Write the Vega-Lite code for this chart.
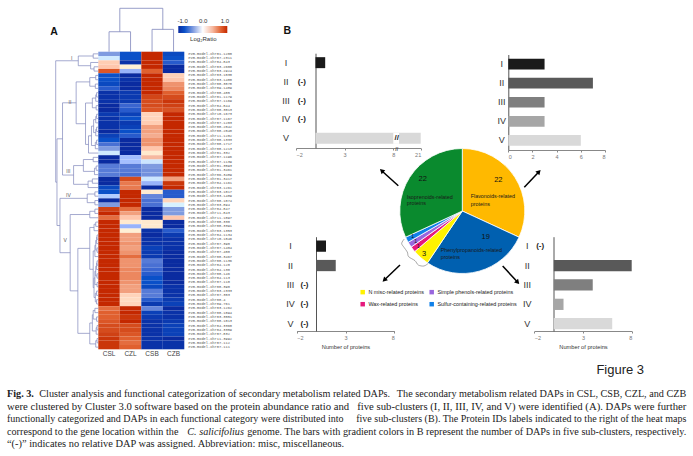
{"$schema":"https://vega.github.io/schema/vega-lite/v6.json","width":693,"height":456,"padding":0,"autosize":{"type":"none"},"background":"white",
"config":{"view":{"stroke":null},"axis":{"grid":false},"font":"Liberation Sans"},
"resolve":{"scale":{"x":"independent","y":"independent","color":"independent"},"axis":{"x":"independent","y":"independent"}},
"layer":[
{"data":{"values":[
{"r":0,"s":"CSL","v":-0.4},{"r":0,"s":"CZL","v":-0.75},{"r":0,"s":"CSB","v":1},{"r":0,"s":"CZB","v":-0.8},
{"r":1,"s":"CSL","v":-0.08},{"r":1,"s":"CZL","v":-0.75},{"r":1,"s":"CSB","v":1},{"r":1,"s":"CZB","v":-0.75},
{"r":2,"s":"CSL","v":0.25},{"r":2,"s":"CZL","v":-0.95},{"r":2,"s":"CSB","v":1},{"r":2,"s":"CZB","v":-0.7},
{"r":3,"s":"CSL","v":0.3},{"r":3,"s":"CZL","v":0},{"r":3,"s":"CSB","v":1},{"r":3,"s":"CZB","v":-1},
{"r":4,"s":"CSL","v":0.8},{"r":4,"s":"CZL","v":-0.3},{"r":4,"s":"CSB","v":0.75},{"r":4,"s":"CZB","v":-1},
{"r":5,"s":"CSL","v":-0.75},{"r":5,"s":"CZL","v":-1},{"r":5,"s":"CSB","v":1},{"r":5,"s":"CZB","v":0.22},
{"r":6,"s":"CSL","v":-0.75},{"r":6,"s":"CZL","v":-0.95},{"r":6,"s":"CSB","v":1},{"r":6,"s":"CZB","v":0.3},
{"r":7,"s":"CSL","v":-0.8},{"r":7,"s":"CZL","v":-1},{"r":7,"s":"CSB","v":1},{"r":7,"s":"CZB","v":0.55},
{"r":8,"s":"CSL","v":-0.7},{"r":8,"s":"CZL","v":-1},{"r":8,"s":"CSB","v":1},{"r":8,"s":"CZB","v":0.6},
{"r":9,"s":"CSL","v":-0.95},{"r":9,"s":"CZL","v":-0.9},{"r":9,"s":"CSB","v":1},{"r":9,"s":"CZB","v":0.75},
{"r":10,"s":"CSL","v":-0.95},{"r":10,"s":"CZL","v":-0.9},{"r":10,"s":"CSB","v":0.88},{"r":10,"s":"CZB","v":0.85},
{"r":11,"s":"CSL","v":-0.95},{"r":11,"s":"CZL","v":-0.9},{"r":11,"s":"CSB","v":0.85},{"r":11,"s":"CZB","v":0.95},
{"r":12,"s":"CSL","v":-1},{"r":12,"s":"CZL","v":-0.65},{"r":12,"s":"CSB","v":0.85},{"r":12,"s":"CZB","v":0.9},
{"r":13,"s":"CSL","v":-1},{"r":13,"s":"CZL","v":-0.7},{"r":13,"s":"CSB","v":0.8},{"r":13,"s":"CZB","v":0.82},
{"r":14,"s":"CSL","v":-0.9},{"r":14,"s":"CZL","v":-0.85},{"r":14,"s":"CSB","v":0.2},{"r":14,"s":"CZB","v":1},
{"r":15,"s":"CSL","v":-0.95},{"r":15,"s":"CZL","v":-0.75},{"r":15,"s":"CSB","v":0.2},{"r":15,"s":"CZB","v":1},
{"r":16,"s":"CSL","v":-0.95},{"r":16,"s":"CZL","v":-0.9},{"r":16,"s":"CSB","v":0.25},{"r":16,"s":"CZB","v":1},
{"r":17,"s":"CSL","v":-0.95},{"r":17,"s":"CZL","v":-0.85},{"r":17,"s":"CSB","v":0.5},{"r":17,"s":"CZB","v":1},
{"r":18,"s":"CSL","v":-1},{"r":18,"s":"CZL","v":-0.75},{"r":18,"s":"CSB","v":0.5},{"r":18,"s":"CZB","v":1},
{"r":19,"s":"CSL","v":-0.85},{"r":19,"s":"CZL","v":-0.7},{"r":19,"s":"CSB","v":0.45},{"r":19,"s":"CZB","v":1},
{"r":20,"s":"CSL","v":-0.75},{"r":20,"s":"CZL","v":-1},{"r":20,"s":"CSB","v":0.55},{"r":20,"s":"CZB","v":1},
{"r":21,"s":"CSL","v":-0.6},{"r":21,"s":"CZL","v":-1},{"r":21,"s":"CSB","v":0.55},{"r":21,"s":"CZB","v":1},
{"r":22,"s":"CSL","v":-0.4},{"r":22,"s":"CZL","v":-1},{"r":22,"s":"CSB","v":0.3},{"r":22,"s":"CZB","v":1},
{"r":23,"s":"CSL","v":-0.08},{"r":23,"s":"CZL","v":-1},{"r":23,"s":"CSB","v":0.05},{"r":23,"s":"CZB","v":1},
{"r":24,"s":"CSL","v":-1},{"r":24,"s":"CZL","v":-0.25},{"r":24,"s":"CSB","v":0.4},{"r":24,"s":"CZB","v":1},
{"r":25,"s":"CSL","v":-1},{"r":25,"s":"CZL","v":-0.25},{"r":25,"s":"CSB","v":-0.1},{"r":25,"s":"CZB","v":1},
{"r":26,"s":"CSL","v":-0.55},{"r":26,"s":"CZL","v":-0.55},{"r":26,"s":"CSB","v":-0.4},{"r":26,"s":"CZB","v":1},
{"r":27,"s":"CSL","v":-0.55},{"r":27,"s":"CZL","v":-0.55},{"r":27,"s":"CSB","v":-0.45},{"r":27,"s":"CZB","v":1},
{"r":28,"s":"CSL","v":-0.55},{"r":28,"s":"CZL","v":-0.6},{"r":28,"s":"CSB","v":-0.45},{"r":28,"s":"CZB","v":1},
{"r":29,"s":"CSL","v":-1},{"r":29,"s":"CZL","v":0.85},{"r":29,"s":"CSB","v":-0.1},{"r":29,"s":"CZB","v":0.5},
{"r":30,"s":"CSL","v":-1},{"r":30,"s":"CZL","v":0.65},{"r":30,"s":"CSB","v":-0.3},{"r":30,"s":"CZB","v":0.95},
{"r":31,"s":"CSL","v":-0.8},{"r":31,"s":"CZL","v":0.65},{"r":31,"s":"CSB","v":-1},{"r":31,"s":"CZB","v":1},
{"r":32,"s":"CSL","v":-0.75},{"r":32,"s":"CZL","v":1},{"r":32,"s":"CSB","v":0.03},{"r":32,"s":"CZB","v":-0.7},
{"r":33,"s":"CSL","v":-0.2},{"r":33,"s":"CZL","v":1},{"r":33,"s":"CSB","v":-0.5},{"r":33,"s":"CZB","v":-0.7},
{"r":34,"s":"CSL","v":-1},{"r":34,"s":"CZL","v":1},{"r":34,"s":"CSB","v":-0.6},{"r":34,"s":"CZB","v":0.2},
{"r":35,"s":"CSL","v":-0.4},{"r":35,"s":"CZL","v":1},{"r":35,"s":"CSB","v":-0.6},{"r":35,"s":"CZB","v":-0.05},
{"r":36,"s":"CSL","v":0.9},{"r":36,"s":"CZL","v":0.7},{"r":36,"s":"CSB","v":-1},{"r":36,"s":"CZB","v":-0.4},
{"r":37,"s":"CSL","v":1},{"r":37,"s":"CZL","v":0.5},{"r":37,"s":"CSB","v":-1},{"r":37,"s":"CZB","v":-0.4},
{"r":38,"s":"CSL","v":0.7},{"r":38,"s":"CZL","v":0.3},{"r":38,"s":"CSB","v":-1},{"r":38,"s":"CZB","v":0.3},
{"r":39,"s":"CSL","v":1},{"r":39,"s":"CZL","v":0.05},{"r":39,"s":"CSB","v":0.05},{"r":39,"s":"CZB","v":-1},
{"r":40,"s":"CSL","v":1},{"r":40,"s":"CZL","v":-0.3},{"r":40,"s":"CSB","v":0.05},{"r":40,"s":"CZB","v":-1},
{"r":41,"s":"CSL","v":1},{"r":41,"s":"CZL","v":0},{"r":41,"s":"CSB","v":-0.95},{"r":41,"s":"CZB","v":-0.7},
{"r":42,"s":"CSL","v":1},{"r":42,"s":"CZL","v":0.5},{"r":42,"s":"CSB","v":-1},{"r":42,"s":"CZB","v":-0.9},
{"r":43,"s":"CSL","v":1},{"r":43,"s":"CZL","v":0.5},{"r":43,"s":"CSB","v":-0.95},{"r":43,"s":"CZB","v":-0.95},
{"r":44,"s":"CSL","v":1},{"r":44,"s":"CZL","v":0.55},{"r":44,"s":"CSB","v":-0.95},{"r":44,"s":"CZB","v":-0.95},
{"r":45,"s":"CSL","v":1},{"r":45,"s":"CZL","v":0.5},{"r":45,"s":"CSB","v":-0.85},{"r":45,"s":"CZB","v":-0.95},
{"r":46,"s":"CSL","v":1},{"r":46,"s":"CZL","v":0.55},{"r":46,"s":"CSB","v":-0.9},{"r":46,"s":"CZB","v":-1},
{"r":47,"s":"CSL","v":1},{"r":47,"s":"CZL","v":0.7},{"r":47,"s":"CSB","v":-0.9},{"r":47,"s":"CZB","v":-1},
{"r":48,"s":"CSL","v":1},{"r":48,"s":"CZL","v":0.55},{"r":48,"s":"CSB","v":-0.55},{"r":48,"s":"CZB","v":-1},
{"r":49,"s":"CSL","v":1},{"r":49,"s":"CZL","v":0.55},{"r":49,"s":"CSB","v":-0.6},{"r":49,"s":"CZB","v":-1},
{"r":50,"s":"CSL","v":1},{"r":50,"s":"CZL","v":0.6},{"r":50,"s":"CSB","v":-0.65},{"r":50,"s":"CZB","v":-1},
{"r":51,"s":"CSL","v":1},{"r":51,"s":"CZL","v":0.6},{"r":51,"s":"CSB","v":-0.7},{"r":51,"s":"CZB","v":-1},
{"r":52,"s":"CSL","v":1},{"r":52,"s":"CZL","v":0.6},{"r":52,"s":"CSB","v":-0.75},{"r":52,"s":"CZB","v":-1},
{"r":53,"s":"CSL","v":1},{"r":53,"s":"CZL","v":0.55},{"r":53,"s":"CSB","v":-0.75},{"r":53,"s":"CZB","v":-1},
{"r":54,"s":"CSL","v":1},{"r":54,"s":"CZL","v":0.5},{"r":54,"s":"CSB","v":-0.8},{"r":54,"s":"CZB","v":-0.95},
{"r":55,"s":"CSL","v":1},{"r":55,"s":"CZL","v":0.5},{"r":55,"s":"CSB","v":-0.55},{"r":55,"s":"CZB","v":-0.95},
{"r":56,"s":"CSL","v":1},{"r":56,"s":"CZL","v":0.2},{"r":56,"s":"CSB","v":-0.55},{"r":56,"s":"CZB","v":-0.95},
{"r":57,"s":"CSL","v":1},{"r":57,"s":"CZL","v":0.15},{"r":57,"s":"CSB","v":-0.7},{"r":57,"s":"CZB","v":-0.9},
{"r":58,"s":"CSL","v":1},{"r":58,"s":"CZL","v":0.2},{"r":58,"s":"CSB","v":-0.9},{"r":58,"s":"CZB","v":-0.85},
{"r":59,"s":"CSL","v":0.7},{"r":59,"s":"CZL","v":1},{"r":59,"s":"CSB","v":-0.5},{"r":59,"s":"CZB","v":-1},
{"r":60,"s":"CSL","v":0.75},{"r":60,"s":"CZL","v":1},{"r":60,"s":"CSB","v":-0.85},{"r":60,"s":"CZB","v":-0.95},
{"r":61,"s":"CSL","v":0.75},{"r":61,"s":"CZL","v":0.95},{"r":61,"s":"CSB","v":-0.9},{"r":61,"s":"CZB","v":-0.95},
{"r":62,"s":"CSL","v":0.8},{"r":62,"s":"CZL","v":1},{"r":62,"s":"CSB","v":-0.95},{"r":62,"s":"CZB","v":-0.9},
{"r":63,"s":"CSL","v":0.85},{"r":63,"s":"CZL","v":0.85},{"r":63,"s":"CSB","v":-0.95},{"r":63,"s":"CZB","v":-0.85},
{"r":64,"s":"CSL","v":0.85},{"r":64,"s":"CZL","v":0.85},{"r":64,"s":"CSB","v":-0.95},{"r":64,"s":"CZB","v":-0.85},
{"r":65,"s":"CSL","v":0.9},{"r":65,"s":"CZL","v":0.8},{"r":65,"s":"CSB","v":-0.95},{"r":65,"s":"CZB","v":-0.85},
{"r":66,"s":"CSL","v":0.95},{"r":66,"s":"CZL","v":0.75},{"r":66,"s":"CSB","v":-0.95},{"r":66,"s":"CZB","v":-1},
{"r":67,"s":"CSL","v":0.95},{"r":67,"s":"CZL","v":0.7},{"r":67,"s":"CSB","v":-0.95},{"r":67,"s":"CZB","v":-0.95},
{"r":68,"s":"CSL","v":0.95},{"r":68,"s":"CZL","v":0.75},{"r":68,"s":"CSB","v":-0.95},{"r":68,"s":"CZB","v":-0.95}
]},"mark":{"type":"rect"},"encoding":{
"x":{"field":"s","type":"nominal","scale":{"type":"band","domain":["CSL","CZL","CSB","CZB"],"range":[98.3,184.3]},"axis":{"orient":"bottom","offset":-106.7,"title":null,"domain":false,"ticks":false,"labelAngle":0,"labelFontSize":6.5,"labelColor":"#444","labelPadding":1}},
"y":{"field":"r","type":"ordinal","scale":{"type":"band","range":[51.7,349.3],"paddingInner":0,"paddingOuter":0},"axis":null},
"color":{"field":"v","type":"quantitative","legend":null,"scale":{"domain":[-1,-0.75,-0.4,0,0.4,0.75,1],"range":["#0a2ba0","#0a50c8","#7f9be0","#ffffff","#f6b89f","#e0602f","#c42800"]}}}},

{"data":{"values":[
{"r":0,"id":"evm.model.Chr01.1200"},{"r":1,"id":"evm.model.Chr07.2311"},{"r":2,"id":"evm.model.Chr04.843"},{"r":3,"id":"evm.model.Chr03.2600"},{"r":4,"id":"evm.model.Chr03.2924"},{"r":5,"id":"evm.model.Chr03.1030"},{"r":6,"id":"evm.model.Chr03.1480"},{"r":7,"id":"evm.model.Chr08.3878"},{"r":8,"id":"evm.model.Chr09.1489"},{"r":9,"id":"evm.model.Chr08.485"},{"r":10,"id":"evm.model.Chr01.1179"},{"r":11,"id":"evm.model.Chr07.1169"},{"r":12,"id":"evm.model.Chr04.844"},{"r":13,"id":"evm.model.Chr08.3013"},{"r":14,"id":"evm.model.Chr10.1673"},{"r":15,"id":"evm.model.Chr07.1167"},{"r":16,"id":"evm.model.Chr07.1203"},{"r":17,"id":"evm.model.Chr08.2042"},{"r":18,"id":"evm.model.Chr08.2040"},{"r":19,"id":"evm.model.Chr11.1202"},{"r":20,"id":"evm.model.Chr08.1333"},{"r":21,"id":"evm.model.Chr08.1717"},{"r":22,"id":"evm.model.Chr08.1213"},{"r":23,"id":"evm.model.Chr01.332"},{"r":24,"id":"evm.model.Chr07.1196"},{"r":25,"id":"evm.model.Chr07.1139"},{"r":26,"id":"evm.model.Chr01.3593"},{"r":27,"id":"evm.model.Chr01.3461"},{"r":28,"id":"evm.model.Chr06.3489"},{"r":29,"id":"evm.model.Chr01.3417"},{"r":30,"id":"evm.model.Chr04.1161"},{"r":31,"id":"evm.model.Chr03.1261"},{"r":32,"id":"evm.model.Chr03.1017"},{"r":33,"id":"evm.model.Chr03.1489"},{"r":34,"id":"evm.model.Chr08.1074"},{"r":35,"id":"evm.model.Chr03.894"},{"r":36,"id":"evm.model.Chr04.847"},{"r":37,"id":"evm.model.Chr11.843"},{"r":38,"id":"evm.model.Chr11.1097"},{"r":39,"id":"evm.model.Chr08.330"},{"r":40,"id":"evm.model.Chr08.3391"},{"r":41,"id":"evm.model.Chr03.1353"},{"r":42,"id":"evm.model.Chr04.1134"},{"r":43,"id":"evm.model.Chr10.1046"},{"r":44,"id":"evm.model.Chr07.390"},{"r":45,"id":"evm.model.Chr07.1404"},{"r":46,"id":"evm.model.Chr07.400"},{"r":47,"id":"evm.model.Chr08.3467"},{"r":48,"id":"evm.model.Chr08.1136"},{"r":49,"id":"evm.model.Chr04.120"},{"r":50,"id":"evm.model.Chr04.130"},{"r":51,"id":"evm.model.Chr08.146"},{"r":52,"id":"evm.model.Chr04.113"},{"r":53,"id":"evm.model.Chr07.110"},{"r":54,"id":"evm.model.Chr08.390"},{"r":55,"id":"evm.model.Chr03.2333"},{"r":56,"id":"evm.model.Chr07.303"},{"r":57,"id":"evm.model.Chr08.4"},{"r":58,"id":"evm.model.Chr09.761"},{"r":59,"id":"evm.model.Chr03.1262"},{"r":60,"id":"evm.model.Chr08.1094"},{"r":61,"id":"evm.model.Chr03.3551"},{"r":62,"id":"evm.model.Chr08.1013"},{"r":63,"id":"evm.model.Chr04.3360"},{"r":64,"id":"evm.model.Chr04.3359"},{"r":65,"id":"evm.model.Chr07.832"},{"r":66,"id":"evm.model.Chr11.3992"},{"r":67,"id":"evm.model.Chr07.112"},{"r":68,"id":"evm.model.Chr07.111"}
]},"mark":{"type":"text","align":"left","baseline":"middle","font":"Liberation Mono","fontSize":3.65,"color":"#555"},"encoding":{
"x":{"datum":0,"scale":{"domain":[0,1],"range":[188.3,232]},"axis":null},
"y":{"field":"r","type":"ordinal","scale":{"type":"band","range":[51.7,349.3],"paddingInner":0,"paddingOuter":0},"axis":null},
"text":{"field":"id"}}},

{"encoding":{
"x":{"field":"d","type":"quantitative","scale":{"domain":[0,100],"range":[98.3,55.7]},"axis":null},
"y":{"field":"r1","type":"quantitative","scale":{"domain":[0,69],"range":[51.7,349.3]},"axis":null}},
"data":{"values":[
{"d":12,"r1":0.5,"d1":0,"r2":1.5,"d2":0},{"d":10,"r1":3.5,"d1":0,"r2":4.5,"d2":0},{"d":18,"r1":2.5,"d1":0,"r2":4,"d2":10},{"d":47,"r1":1,"d1":12,"r2":3.25,"d2":18},
{"d":6,"r1":5.5,"d1":0,"r2":6.5,"d2":0},{"d":7,"r1":7.5,"d1":0,"r2":8.5,"d2":0},{"d":20,"r1":6,"d1":6,"r2":8,"d2":7},{"d":4,"r1":9.5,"d1":0,"r2":10.5,"d2":0},{"d":6,"r1":10,"d1":4,"r2":11.5,"d2":0},{"d":5,"r1":12.5,"d1":0,"r2":13.5,"d2":0},{"d":14,"r1":10.75,"d1":6,"r2":13,"d2":5},{"d":4,"r1":14.5,"d1":0,"r2":15.5,"d2":0},{"d":6,"r1":15,"d1":4,"r2":16.5,"d2":0},{"d":4,"r1":17.5,"d1":0,"r2":18.5,"d2":0},{"d":6,"r1":18,"d1":4,"r2":19.5,"d2":0},{"d":11,"r1":15.75,"d1":6,"r2":18.75,"d2":6},{"d":4,"r1":20.5,"d1":0,"r2":21.5,"d2":0},{"d":7,"r1":21,"d1":4,"r2":22.5,"d2":0},{"d":16,"r1":17.25,"d1":11,"r2":21.75,"d2":7},{"d":23,"r1":19.5,"d1":16,"r2":23.5,"d2":0},{"d":30,"r1":11.9,"d1":14,"r2":21.5,"d2":23},{"d":52,"r1":7,"d1":20,"r2":16.7,"d2":30},
{"d":12,"r1":24.5,"d1":0,"r2":25.5,"d2":0},{"d":5,"r1":26.5,"d1":0,"r2":27.5,"d2":0},{"d":9,"r1":27,"d1":5,"r2":28.5,"d2":0},{"d":35,"r1":25,"d1":12,"r2":27.75,"d2":9},{"d":14,"r1":29.5,"d1":0,"r2":30.5,"d2":0},{"d":24,"r1":30,"d1":14,"r2":31.5,"d2":0},{"d":58,"r1":26.4,"d1":35,"r2":30.75,"d2":24},
{"d":8,"r1":32.5,"d1":0,"r2":33.5,"d2":0},{"d":8,"r1":34.5,"d1":0,"r2":35.5,"d2":0},{"d":26,"r1":33,"d1":8,"r2":35,"d2":8},
{"d":8,"r1":36.5,"d1":0,"r2":37.5,"d2":0},{"d":20,"r1":37,"d1":8,"r2":38.5,"d2":0},{"d":6,"r1":39.5,"d1":0,"r2":40.5,"d2":0},{"d":10,"r1":40,"d1":6,"r2":41.5,"d2":0},{"d":3,"r1":42.5,"d1":0,"r2":43.5,"d2":0},{"d":4,"r1":43,"d1":3,"r2":44.5,"d2":0},{"d":3,"r1":45.5,"d1":0,"r2":46.5,"d2":0},{"d":6,"r1":43.75,"d1":4,"r2":46,"d2":3},{"d":8,"r1":44.9,"d1":6,"r2":47.5,"d2":0},{"d":3,"r1":48.5,"d1":0,"r2":49.5,"d2":0},{"d":4,"r1":49,"d1":3,"r2":50.5,"d2":0},{"d":3,"r1":51.5,"d1":0,"r2":52.5,"d2":0},{"d":6,"r1":49.75,"d1":4,"r2":52,"d2":3},{"d":3,"r1":53.5,"d1":0,"r2":54.5,"d2":0},{"d":8,"r1":50.9,"d1":6,"r2":54,"d2":3},{"d":4,"r1":55.5,"d1":0,"r2":56.5,"d2":0},{"d":4,"r1":57.5,"d1":0,"r2":58.5,"d2":0},{"d":7,"r1":56,"d1":4,"r2":58,"d2":4},{"d":10,"r1":52.45,"d1":8,"r2":57,"d2":7},{"d":12,"r1":46.2,"d1":8,"r2":54.7,"d2":10},{"d":20,"r1":40.75,"d1":10,"r2":50.45,"d2":12},{"d":8,"r1":59.5,"d1":0,"r2":60.5,"d2":0},{"d":4,"r1":61.5,"d1":0,"r2":62.5,"d2":0},{"d":12,"r1":60,"d1":8,"r2":62,"d2":4},{"d":3,"r1":63.5,"d1":0,"r2":64.5,"d2":0},{"d":5,"r1":64,"d1":3,"r2":65.5,"d2":0},{"d":14,"r1":61,"d1":12,"r2":64.75,"d2":5},{"d":3,"r1":66.5,"d1":0,"r2":67.5,"d2":0},{"d":6,"r1":67,"d1":3,"r2":68.5,"d2":0},{"d":20,"r1":62.9,"d1":14,"r2":67.75,"d2":6},{"d":48,"r1":45.6,"d1":20,"r2":65.3,"d2":20},{"d":66,"r1":37.75,"d1":20,"r2":55.45,"d2":48},
{"d":84,"r1":11.85,"d1":52,"r2":28.6,"d2":58},{"d":90,"r1":34,"d1":26,"r2":46.6,"d2":66},{"d":97,"r1":20.2,"d1":84,"r2":40.3,"d2":90},{"d":100,"r1":2.1,"d1":47,"r2":30.25,"d2":97}
]},
"layer":[
{"mark":{"type":"rule","color":"#7f86bb","strokeWidth":0.7},"encoding":{"y2":{"field":"r2"}}},
{"mark":{"type":"rule","color":"#7f86bb","strokeWidth":0.7},"encoding":{"x2":{"field":"d1"}}},
{"mark":{"type":"rule","color":"#7f86bb","strokeWidth":0.7},"encoding":{"y":{"field":"r2","type":"quantitative","scale":{"domain":[0,69],"range":[51.7,349.3]},"axis":null},"x2":{"field":"d2"}}},
{"data":{"values":[{"d":62.5,"r1":1.5,"t":"I"},{"d":66.4,"r1":11.75,"t":"II"},{"d":70.3,"r1":27.7,"t":"III"},{"d":70.3,"r1":33.2,"t":"IV"},{"d":78,"r1":43.7,"t":"V"}]},"mark":{"type":"text","fontSize":5,"color":"#555"},"encoding":{"text":{"field":"t"}}}
]},

{"data":{"values":[
{"xa":0.5,"xb":1.5,"ya":0.46,"yb":0.46},{"xa":0.5,"xb":0.5,"ya":0,"yb":0.46},{"xa":1.5,"xb":1.5,"ya":0,"yb":0.46},
{"xa":2.5,"xb":3.5,"ya":0.515,"yb":0.515},{"xa":2.5,"xb":2.5,"ya":0,"yb":0.515},{"xa":3.5,"xb":3.5,"ya":0,"yb":0.515},
{"xa":1,"xb":3,"ya":1,"yb":1},{"xa":1,"xb":1,"ya":0.46,"yb":1},{"xa":3,"xb":3,"ya":0.515,"yb":1}
]},"mark":{"type":"rule","color":"#7f86bb","strokeWidth":0.8},"encoding":{
"x":{"field":"xa","type":"quantitative","scale":{"domain":[0,4],"range":[98.3,184.3]},"axis":null},"x2":{"field":"xb"},
"y":{"field":"ya","type":"quantitative","scale":{"domain":[0,1],"range":[51.7,8.3]},"axis":null},"y2":{"field":"yb"}}},

{"encoding":{
"x":{"field":"v","type":"quantitative","scale":{"domain":[-1,1],"range":[178.3,227.3]},"axis":null},
"y":{"field":"b","type":"quantitative","scale":{"domain":[0,1],"range":[33,26]},"axis":null}},
"layer":[
{"data":{"values":[{"v":-1,"v2":1,"b":0,"b2":1}]},"mark":{"type":"rect","fill":{"gradient":"linear","x1":0,"x2":1,"y1":0,"y2":0,"stops":[{"offset":0,"color":"#0a2ba0"},{"offset":0.125,"color":"#0a50c8"},{"offset":0.3,"color":"#7f9be0"},{"offset":0.5,"color":"#ffffff"},{"offset":0.7,"color":"#f6b89f"},{"offset":0.875,"color":"#e0602f"},{"offset":1,"color":"#c42800"}]}},"encoding":{"x2":{"field":"v2"},"y2":{"field":"b2"}}},
{"data":{"values":[{"v":-0.82,"b":1.67,"t":"-1.0"},{"v":0.02,"b":1.67,"t":"0.0"},{"v":0.9,"b":1.67,"t":"1.0"},{"v":0.02,"b":-0.86,"t":"Log₂Ratio"}]},"mark":{"type":"text","fontSize":6,"color":"#333"},"encoding":{"text":{"field":"t"}}}
]},

{"encoding":{
"x":{"field":"n","type":"quantitative","scale":{"domain":[-2,8,21],"range":[296,393.3,420.7]},"axis":{"orient":"bottom","offset":-308,"values":[-2,3,8,21],"title":null,"format":"d","tickSize":2,"labelFontSize":5.5,"labelColor":"#777","domainColor":"#888","tickColor":"#888","labelPadding":2}},
"y":{"field":"c","type":"nominal","scale":{"type":"band","domain":["I","II","III","IV","V"],"range":[53.2,147.8],"paddingInner":0.42,"paddingOuter":0.21},"axis":{"orient":"left","offset":-315.5,"title":null,"ticks":false,"labelFontSize":9,"labelColor":"#333","labelAlign":"center","labelPadding":30,"domainColor":"#555"}}},
"layer":[
{"data":{"values":[{"c":"I","n":1},{"c":"V","n":21}]},"mark":{"type":"bar"},"encoding":{"color":{"field":"c","type":"nominal","legend":null,"scale":{"domain":["I","II","III","IV","V"],"range":["#1a1a1a","#595959","#7f7f7f","#a6a6a6","#d9d9d9"]}}}},
{"data":{"values":[{"c":"V","n":8,"n2":10.7}]},"mark":{"type":"bar","color":"white"},"encoding":{"x2":{"field":"n2"}}},
{"data":{"values":[{"c":"II","n":-1.4,"t":"(-)"},{"c":"III","n":-1.4,"t":"(-)"},{"c":"IV","n":-1.4,"t":"(-)"},{"c":"V","n":9.6,"t":"//"}]},"mark":{"type":"text","fontSize":8,"fontWeight":"bold","color":"#222"},"encoding":{"text":{"field":"t"}}},
{"data":{"values":[{"c":"V","n":9.6,"t":"//"}]},"mark":{"type":"text","fontSize":5,"dy":10.8,"fontWeight":"bold","color":"#444"},"encoding":{"text":{"field":"t"}}}
]},

{"encoding":{
"x":{"field":"n","type":"quantitative","scale":{"domain":[0,8],"range":[508.3,605]},"axis":{"orient":"bottom","offset":-306,"values":[0,2,4,6,8],"title":null,"format":"d","tickSize":2,"labelFontSize":5.5,"labelColor":"#777","domainColor":"#888","tickColor":"#888","labelPadding":2}},
"y":{"field":"c","type":"nominal","scale":{"type":"band","domain":["I","II","III","IV","V"],"range":[54.5,150],"paddingInner":0.44,"paddingOuter":0.22},"axis":{"orient":"left","offset":-508.3,"title":null,"ticks":false,"labelFontSize":9,"labelColor":"#333","labelAlign":"center","labelPadding":7,"domainColor":"#555"}}},
"layer":[
{"data":{"values":[{"c":"I","n":3},{"c":"II","n":7},{"c":"III","n":3},{"c":"IV","n":3},{"c":"V","n":6}]},"mark":{"type":"bar"},"encoding":{"color":{"field":"c","type":"nominal","legend":null,"scale":{"domain":["I","II","III","IV","V"],"range":["#1a1a1a","#595959","#7f7f7f","#a6a6a6","#d9d9d9"]}}}}
]},

{"encoding":{
"x":{"field":"n","type":"quantitative","scale":{"domain":[-2,8],"range":[296.7,394.3]},"axis":{"orient":"bottom","offset":-125,"values":[-2,3,8],"title":"Number of proteins","titleFontSize":5.7,"titleFontWeight":"normal","titleColor":"#333","titlePadding":3,"format":"d","tickSize":2,"labelFontSize":5.5,"labelColor":"#777","domainColor":"#888","tickColor":"#888","labelPadding":2}},
"y":{"field":"c","type":"nominal","scale":{"type":"band","domain":["I","II","III","IV","V"],"range":[236.7,331],"paddingInner":0.42,"paddingOuter":0.14,"align":0.7},"axis":{"orient":"left","offset":-316,"title":null,"ticks":false,"labelFontSize":9,"labelColor":"#333","labelAlign":"center","labelPadding":26,"domainColor":"#555"}}},
"layer":[
{"data":{"values":[{"c":"I","n":1},{"c":"II","n":2}]},"mark":{"type":"bar"},"encoding":{"color":{"field":"c","type":"nominal","legend":null,"scale":{"domain":["I","II","III","IV","V"],"range":["#1a1a1a","#595959","#7f7f7f","#a6a6a6","#d9d9d9"]}}}},
{"data":{"values":[{"c":"III","n":-1.2,"t":"(-)"},{"c":"IV","n":-1.2,"t":"(-)"},{"c":"V","n":-1.2,"t":"(-)"}]},"mark":{"type":"text","fontSize":8,"fontWeight":"bold","color":"#222"},"encoding":{"text":{"field":"t"}}}
]},

{"encoding":{
"x":{"field":"n","type":"quantitative","scale":{"domain":[-2,8],"range":[534.3,631.7]},"axis":{"orient":"bottom","offset":-125,"values":[-2,3,8],"title":"Number of proteins","titleFontSize":5.7,"titleFontWeight":"normal","titleColor":"#333","titlePadding":3,"format":"d","tickSize":2,"labelFontSize":5.5,"labelColor":"#777","domainColor":"#888","tickColor":"#888","labelPadding":2}},
"y":{"field":"c","type":"nominal","scale":{"type":"band","domain":["I","II","III","IV","V"],"range":[236.7,331],"paddingInner":0.42,"paddingOuter":0.14,"align":0.7},"axis":{"orient":"left","offset":-553.5,"title":null,"ticks":false,"labelFontSize":9,"labelColor":"#333","labelAlign":"center","labelPadding":26.8,"domainColor":"#555"}}},
"layer":[
{"data":{"values":[{"c":"II","n":8},{"c":"III","n":4},{"c":"IV","n":1},{"c":"V","n":6}]},"mark":{"type":"bar"},"encoding":{"color":{"field":"c","type":"nominal","legend":null,"scale":{"domain":["I","II","III","IV","V"],"range":["#1a1a1a","#595959","#7f7f7f","#a6a6a6","#d9d9d9"]}}}},
{"data":{"values":[{"c":"I","n":-1.4,"t":"(-)"}]},"mark":{"type":"text","fontSize":8,"fontWeight":"bold","color":"#222"},"encoding":{"text":{"field":"t"}}}
]},

{"layer":[
{"data":{"values":[
{"k":"Flavonoids-related proteins","count":22,"o":1},{"k":"Phenylpropanoids-related proteins","count":19,"o":2},{"k":"N misc-related proteins","count":3,"o":3},{"k":"Wax-related proteins","count":1,"o":4},{"k":"Simple phenols-related proteins","count":1,"o":5},{"k":"Sulfur-containing-related proteins","count":1,"o":6},{"k":"Isoprenoids-related proteins","count":22,"o":7}
]},"mark":{"type":"arc","outerRadius":62.5,"stroke":"white","strokeWidth":0.8},"encoding":{
"x":{"datum":0,"scale":{"domain":[-1,1],"range":[399.8,524.8]},"axis":null},
"y":{"datum":0,"scale":{"domain":[-1,1],"range":[273.5,148.5]},"axis":null},
"theta":{"field":"count","type":"quantitative","stack":true},
"order":{"field":"o","type":"quantitative"},
"color":{"field":"k","type":"nominal","scale":{"domain":["Flavonoids-related proteins","Phenylpropanoids-related proteins","N misc-related proteins","Wax-related proteins","Simple phenols-related proteins","Sulfur-containing-related proteins","Isoprenoids-related proteins"],"range":["#FFB900","#0060B0","#FFF200","#E6197D","#9966DD","#1080E8","#0A8A2E"]},
"legend":{"orient":"none","legendX":360,"legendY":289,"columns":2,"title":null,"values":["N misc-related proteins","Wax-related proteins","Simple phenols-related proteins","Sulfur-containing-related proteins"],"symbolType":"square","symbolSize":20,"symbolStrokeWidth":0,"labelFontSize":5.4,"labelColor":"#222","rowPadding":5.5,"columnPadding":5,"labelOffset":3}}}},
{"data":{"values":[
{"px":-0.634,"py":0.512,"t":"22"},{"px":0.576,"py":0.496,"t":"22"},{"px":0.374,"py":-0.411,"t":"19"},{"px":-0.613,"py":-0.683,"t":"3"}
]},"mark":{"type":"text","fontSize":7.5,"color":"#111"},"encoding":{
"x":{"field":"px","type":"quantitative","scale":{"domain":[-1,1],"range":[399.8,524.8]},"axis":null},
"y":{"field":"py","type":"quantitative","scale":{"domain":[-1,1],"range":[273.5,148.5]},"axis":null},
"text":{"field":"t"}}},
{"data":{"values":[
{"px":-0.704,"py":-0.555,"t":"1"},{"px":-0.746,"py":-0.48,"t":"1"},{"px":-0.794,"py":-0.4,"t":"1"}
]},"mark":{"type":"text","fontSize":5,"color":"#111"},"encoding":{
"x":{"field":"px","type":"quantitative","scale":{"domain":[-1,1],"range":[399.8,524.8]},"axis":null},
"y":{"field":"py","type":"quantitative","scale":{"domain":[-1,1],"range":[273.5,148.5]},"axis":null},
"text":{"field":"t"}}},
{"data":{"values":[
{"px":-0.89,"py":0.229,"t":"Isoprenoids-related"},{"px":-0.89,"py":0.123,"t":"proteins"},{"px":0.134,"py":0.24,"t":"Flavonoids-related"},{"px":0.134,"py":0.112,"t":"proteins"},{"px":-0.346,"py":-0.624,"t":"Phenylpropanoids-related"},{"px":-0.346,"py":-0.741,"t":"proteins"}
]},"mark":{"type":"text","align":"left","fontSize":5.4,"color":"#1a1a1a"},"encoding":{
"x":{"field":"px","type":"quantitative","scale":{"domain":[-1,1],"range":[399.8,524.8]},"axis":null},
"y":{"field":"py","type":"quantitative","scale":{"domain":[-1,1],"range":[273.5,148.5]},"axis":null},
"text":{"field":"t"}}},
{"data":{"values":[
{"px":-1.024,"py":0.405,"px2":-1.29,"py2":0.645},{"px":0.992,"py":0.379,"px2":1.227,"py2":0.629},{"px":-0.997,"py":-0.864,"px2":-1.248,"py2":-1.104},{"px":0.646,"py":-0.88,"px2":0.886,"py2":-1.141}
]},"mark":{"type":"rule","color":"black","strokeWidth":1.5},"encoding":{
"x":{"field":"px","type":"quantitative","scale":{"domain":[-1,1],"range":[399.8,524.8]},"axis":null},"x2":{"field":"px2"},
"y":{"field":"py","type":"quantitative","scale":{"domain":[-1,1],"range":[273.5,148.5]},"axis":null},"y2":{"field":"py2"}}},
{"data":{"values":[
{"px":-1.29,"py":0.645,"a":312},{"px":1.227,"py":0.629,"a":43},{"px":-1.248,"py":-1.104,"a":226},{"px":0.886,"py":-1.141,"a":137}
]},"mark":{"type":"point","shape":"triangle-up","filled":true,"color":"black","opacity":1,"size":30},"encoding":{
"x":{"field":"px","type":"quantitative","scale":{"domain":[-1,1],"range":[399.8,524.8]},"axis":null},
"y":{"field":"py","type":"quantitative","scale":{"domain":[-1,1],"range":[273.5,148.5]},"axis":null},
"angle":{"field":"a","type":"quantitative","scale":null}}},
{"data":{"values":[
{"i":1,"px":-0.928,"py":-0.448},{"i":2,"px":-0.97,"py":-0.517},{"i":3,"px":-0.933,"py":-0.581},{"i":4,"px":-0.88,"py":-0.656},{"i":5,"px":-0.858,"py":-0.731},{"i":6,"px":-0.757,"py":-0.795},{"i":7,"px":-0.704,"py":-0.864},{"i":8,"px":-0.613,"py":-0.88},{"i":9,"px":-0.544,"py":-0.837}
]},"mark":{"type":"line","interpolate":"cardinal","color":"#555","strokeWidth":0.5},"encoding":{
"x":{"field":"px","type":"quantitative","scale":{"domain":[-1,1],"range":[399.8,524.8]},"axis":null},
"y":{"field":"py","type":"quantitative","scale":{"domain":[-1,1],"range":[273.5,148.5]},"axis":null},
"order":{"field":"i","type":"quantitative"}}}
]},

{"encoding":{
"x":{"field":"pos","type":"quantitative","scale":{"domain":[0,100],"range":[0,693]},"axis":null},
"y":{"field":"line","type":"quantitative","scale":{"domain":[1,5],"range":[394.3,444.3]},"axis":null},
"size":{"field":"line","type":"ordinal","legend":null,"scale":{"type":"ordinal","domain":[1,2,3,4,5],"range":[10.2,10.7,10,10.2,10.4]}},
"text":{"field":"t"}},
"layer":[
{"data":{"values":[
{"line":1,"pos":5.67,"t":"Cluster analysis and functional categorization of secondary metabolism related DAPs."},
{"line":2,"pos":1.01,"t":"were clustered by Cluster 3.0 software based on the protein abundance ratio and"},
{"line":3,"pos":1.01,"t":"functionally categorized and DAPs in each functional category were distributed into"},
{"line":4,"pos":1.01,"t":"correspond to the gene location within the"},
{"line":5,"pos":1.01,"t":"“(-)” indicates no relative DAP was assigned. Abbreviation: misc, miscellaneous."}
]},"mark":{"type":"text","align":"left","font":"Liberation Serif","color":"#222"}},
{"data":{"values":[
{"line":1,"pos":99.03,"t":"The secondary metabolism related DAPs in CSL, CSB, CZL, and CZB"},
{"line":2,"pos":99.03,"t":"five sub-clusters (I, II, III, IV, and V) were identified (A). DAPs were further"},
{"line":3,"pos":99.03,"t":"five sub-clusters (B). The Protein IDs labels indicated to the right of the heat maps"},
{"line":4,"pos":99.03,"t":"genome. The bars with gradient colors in B represent the number of DAPs in five sub-clusters, respectively."}
]},"mark":{"type":"text","align":"right","font":"Liberation Serif","color":"#222"}},
{"data":{"values":[{"line":1,"pos":1.01,"t":"Fig. 3."}]},"mark":{"type":"text","align":"left","font":"Liberation Serif","fontWeight":"bold","color":"#222"}},
{"data":{"values":[{"line":4,"pos":27.03,"t":"C. salicifolius"}]},"mark":{"type":"text","align":"left","font":"Liberation Serif","fontStyle":"italic","color":"#222"}}
]},

{"encoding":{
"x":{"field":"pos","type":"quantitative","scale":{"domain":[0,100],"range":[0,693]},"axis":null},
"y":{"field":"top","type":"quantitative","scale":{"domain":[0,100],"range":[0,456]},"axis":null},
"text":{"field":"t"}},
"layer":[
{"data":{"values":[{"pos":7.79,"top":6.95,"t":"A"},{"pos":41.46,"top":6.8,"t":"B"}]},"mark":{"type":"text","fontSize":10.5,"fontWeight":"bold","color":"#111"}},
{"data":{"values":[{"pos":89.5,"top":81.1,"t":"Figure 3"}]},"mark":{"type":"text","fontSize":13,"color":"#222"}}
]}
]}
